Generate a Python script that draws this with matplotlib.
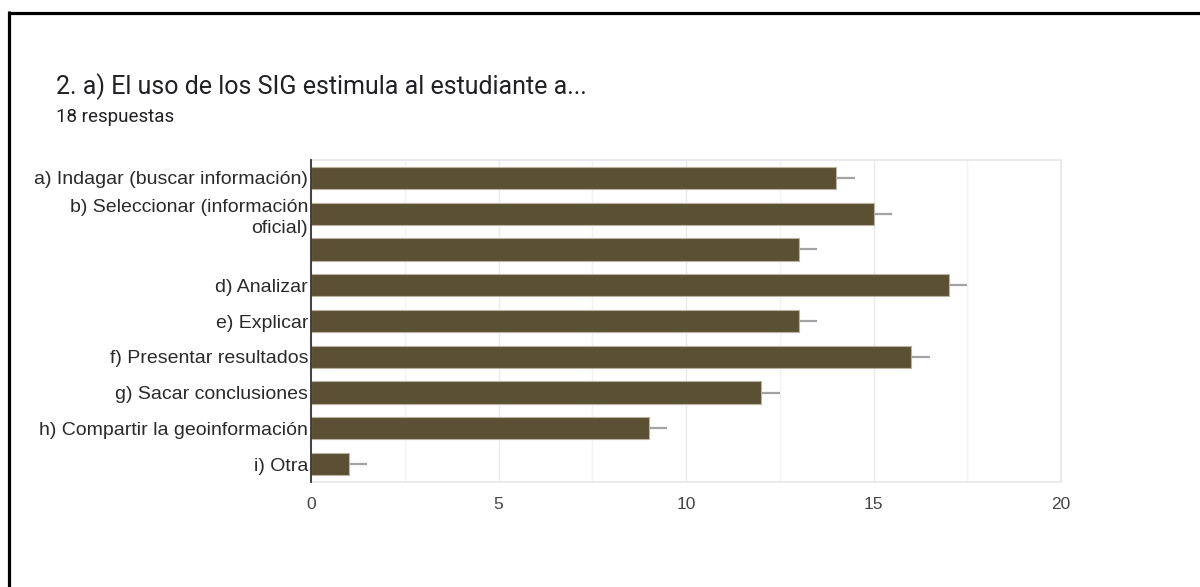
import matplotlib
matplotlib.use("Agg")
import matplotlib.pyplot as plt
from matplotlib.lines import Line2D
from matplotlib.ticker import MultipleLocator

# Survey answers: "El uso de los SIG estimula al estudiante a..."
categories = [
    "a) Indagar (buscar información)",
    "b) Seleccionar (información\noficial)",
    "",
    "d) Analizar",
    "e) Explicar",
    "f) Presentar resultados",
    "g) Sacar conclusiones",
    "h) Compartir la geoinformación",
    "i) Otra",
]
counts = [14, 15, 13, 17, 13, 16, 12, 9, 1]
err_plus = [0.5, 0.5, 0.5, 0.5, 0.5, 0.5, 0.5, 0.5, 0.5]
x_ticks = [0, 5, 10, 15, 20]

title = "2. a) El uso de los SIG estimula al estudiante a..."
subtitle = "18 respuestas"

bar_color = "#5b5033"
W, H = 1200, 587
fig = plt.figure(figsize=(W / 100, H / 100), dpi=100)
fig.patch.set_facecolor("white")

ax = fig.add_axes([311 / W, 1 - 482 / H, 750 / W, 322 / H])
pos = list(range(len(categories)))

# error whiskers drawn beneath the bars, pointing to the right
ax.errorbar(counts, pos, xerr=[[0] * len(counts), err_plus], fmt="none",
            ecolor="#a3a3a3", elinewidth=1.6, capsize=0, zorder=2)
ax.barh(pos, counts, height=0.62, color=bar_color, edgecolor="#b8b2a0",
        linewidth=0.8, zorder=3)

ax.set_xlim(0, 20)
ax.set_ylim(len(categories) - 0.5, -0.5)
ax.set_yticks(pos)
ax.set_yticklabels(categories, fontsize=14, color="#2a2a2a",
                   family=["Liberation Sans", "DejaVu Sans"],
                   linespacing=1.35)
ax.set_xticks(x_ticks)
ax.set_xticklabels([str(v) for v in x_ticks], fontsize=12.5, color="#444444",
                   family=["Liberation Sans", "DejaVu Sans"])
ax.xaxis.set_minor_locator(MultipleLocator(2.5))
ax.tick_params(axis="both", which="both", length=0)
ax.tick_params(axis="x", pad=11)
ax.tick_params(axis="y", pad=2)

ax.grid(axis="x", which="major", color="#ebebeb", linewidth=1.0, zorder=0)
ax.grid(axis="x", which="minor", color="#f3f3f3", linewidth=1.0, zorder=0)
ax.set_axisbelow(True)

for side in ("top", "right", "bottom"):
    ax.spines[side].set_color("#e6e6e6")
    ax.spines[side].set_linewidth(1.2)
ax.spines["left"].set_color("#333333")
ax.spines["left"].set_linewidth(1.3)
ax.spines["left"].set_zorder(5)

# headings
fig.text(56 / W, 1 - 94 / H, title, fontsize=18, color="#202124",
         family=["Roboto", "DejaVu Sans"], fontstretch="normal",
         va="baseline", ha="left")
fig.text(56 / W, 1 - 122 / H, subtitle, fontsize=13.5, color="#202124",
         family=["Roboto", "DejaVu Sans"], fontstretch="normal",
         va="baseline", ha="left")

# card frame: top and left edges
fig.add_artist(Line2D([8.5 / W, 1.0], [1 - 12.5 / H, 1 - 12.5 / H],
                      transform=fig.transFigure, color="black", linewidth=2.3,
                      solid_capstyle="butt"))
fig.add_artist(Line2D([8.5 / W, 8.5 / W], [0.0, 1 - 11.3 / H],
                      transform=fig.transFigure, color="black", linewidth=2.3,
                      solid_capstyle="butt"))

fig.savefig("out.png", dpi=100, facecolor="white")
